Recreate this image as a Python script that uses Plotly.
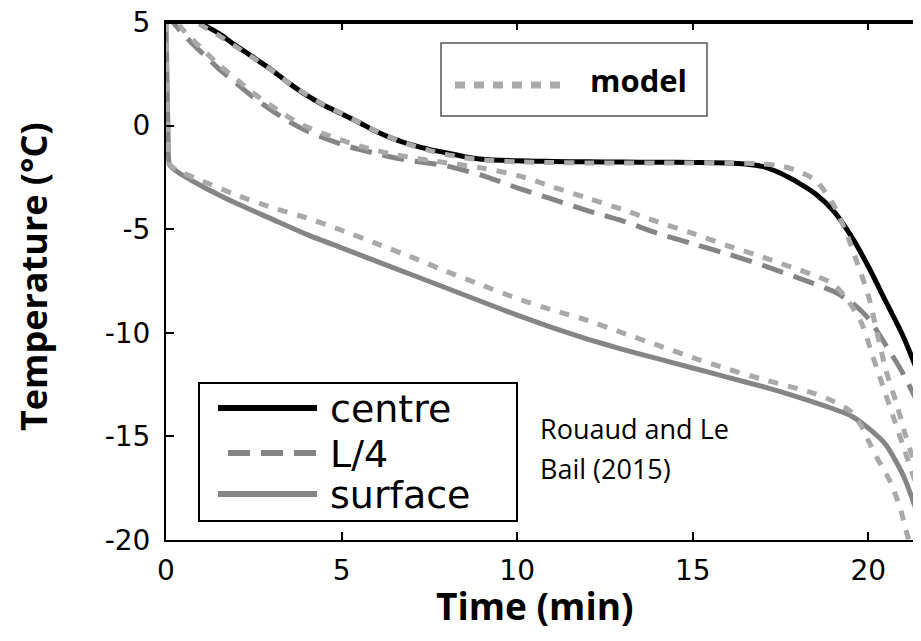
import plotly.graph_objects as go

# ---------------- data ----------------
centre_t = [0, 0.5, 1.0, 1.5, 2.0, 2.5, 3.0, 3.5, 4.0, 4.5, 5.0, 5.5, 6.0, 6.5, 7.0, 7.5,
            8.0, 8.5, 9.0, 10, 11, 12, 13, 14, 15, 16, 16.5, 17.0, 17.5, 18.0, 18.5,
            19.0, 19.5, 20.0, 20.5, 21.0, 21.5]
centre_T = [6.2, 5.6, 4.95, 4.45, 3.85, 3.28, 2.7, 2.05, 1.47, 0.98, 0.57, 0.15, -0.3,
            -0.65, -0.93, -1.15, -1.32, -1.5, -1.62, -1.7, -1.73, -1.75, -1.76, -1.77,
            -1.78, -1.8, -1.85, -1.98, -2.3, -2.75, -3.3, -4.1, -5.3, -6.8, -8.5, -10.2, -12.3]

l4_t = [0, 0.5, 1.0, 1.5, 2.0, 2.5, 3.0, 3.5, 4.0, 4.5, 5.0, 5.5, 6.0, 6.5, 7.0, 7.5, 8.0,
        9.0, 10, 11, 12, 13, 14, 15, 16, 17, 18, 19, 19.5, 20.0, 20.5, 21.0, 21.5]
l4_T = [5.4, 4.4, 3.55, 2.75, 2.05, 1.35, 0.75, 0.2, -0.25, -0.6, -0.9, -1.15, -1.35, -1.55,
        -1.7, -1.82, -1.95, -2.4, -3.0, -3.55, -4.1, -4.6, -5.2, -5.7, -6.2, -6.75, -7.35,
        -8.0, -8.5, -9.3, -10.6, -12.0, -13.7]

surf_t = [0, 0.03, 0.06, 0.1, 0.3, 1.0, 2.0, 3.0, 4.0, 5.0, 6.0, 7.0, 8.0, 9.0, 10.0, 11.0,
          12.0, 13.0, 14.0, 15.0, 16.0, 17.0, 18.0, 18.8, 19.5, 20.0, 20.5, 21.0, 21.5]
surf_T = [5.0, 2.0, -0.5, -1.9, -2.2, -2.9, -3.75, -4.5, -5.25, -5.9, -6.55, -7.2, -7.85, -8.5,
          -9.15, -9.75, -10.3, -10.8, -11.25, -11.7, -12.15, -12.6, -13.1, -13.55, -14.0,
          -14.6, -15.4, -16.9, -19.2]

m_centre_t = [0, 0.5, 1.0, 1.5, 2, 2.5, 3, 3.5, 4, 4.5, 5, 5.5, 6, 6.5, 7, 7.5, 8, 8.5, 9,
              10, 11, 12, 13, 14, 15, 16, 17, 17.5, 18.0, 18.5, 19.0, 19.4, 19.7, 20.0,
              20.25, 20.5, 20.8, 21.05, 21.3, 21.5]
m_centre_T = [6.0, 5.4, 4.85, 4.35, 3.8, 3.25, 2.68, 2.05, 1.5, 1.0, 0.58, 0.15, -0.28, -0.65,
              -0.95, -1.2, -1.4, -1.55, -1.65, -1.75, -1.78, -1.8, -1.8, -1.8, -1.8, -1.8,
              -1.85, -1.95, -2.2, -2.65, -3.8, -5.3, -6.7, -8.2, -10.0, -11.8, -13.4, -14.9,
              -16.2, -17.2]

m_l4_t = [0, 0.5, 1.0, 1.5, 2.0, 2.5, 3.0, 3.5, 4.0, 4.5, 5.0, 5.5, 6.0, 6.5, 7.0, 7.5, 8.0,
          9.0, 10, 11, 12, 13, 14, 15, 16, 17, 18, 18.5, 19.0, 19.4, 19.8, 20.1, 20.4, 20.7,
          21.0, 21.3, 21.5]
m_l4_T = [5.6, 4.6, 3.75, 2.95, 2.25, 1.55, 0.95, 0.4, -0.05, -0.4, -0.7, -0.98, -1.2, -1.4,
          -1.55, -1.68, -1.8, -2.05, -2.4, -2.95, -3.5, -4.05, -4.65, -5.2, -5.8, -6.35,
          -6.95, -7.25, -7.65, -8.4, -9.5, -11.0, -12.5, -14.0, -15.5, -17.0, -18.0]

m_surf_t = [0, 0.03, 0.07, 0.12, 0.5, 1.0, 2.0, 3.0, 4.0, 5.0, 6.0, 7.0, 8.0, 9.0, 10.0, 11.0,
            12.0, 13.0, 14.0, 15.0, 16.0, 17.0, 18.0, 18.5, 19.0, 19.5, 19.8, 20.0, 20.3,
            20.6, 20.9, 21.1, 21.3]
m_surf_T = [5.0, 1.5, -1.0, -1.9, -2.3, -2.65, -3.35, -3.95, -4.45, -5.05, -5.7, -6.35, -7.05,
            -7.7, -8.35, -8.9, -9.4, -10.0, -10.6, -11.2, -11.75, -12.25, -12.7, -12.95,
            -13.3, -13.8, -14.5, -15.2, -16.2, -17.1, -18.4, -19.7, -20.8]

x_ticks = [0, 5, 10, 15, 20]
x_tick_labels = ["0", "5", "10", "15", "20"]
y_ticks = [-20, -15, -10, -5, 0, 5]
y_tick_labels = ["-20", "-15", "-10", "-5", "0", "5"]

legend_names = ["centre", "L/4", "surface"]
model_name = "model"
x_title = "Time (min)"
y_title = "Temperature (°C)"
note_lines = ["Rouaud and Le", "Bail (2015)"]

# ---------------- styles ----------------
BLACK = "#000000"
GREY = "#858585"
LIGHT = "#a9a9a9"
OFF = 8                      # default body margin of the html page
SCR_W, SCR_H = 921, 641
PL, PT, PB = 166, 22, 540    # plot area edges in screen pixels
PX_PER_MIN = 755 / 21.5
W, H = SCR_W - OFF, SCR_H - 2 * OFF
PR = OFF + W
L, T = PL - OFF, PT - OFF
R, B = 0, H - (PB - OFF)
PW, PH = PR - PL, PB - PT
X_MAX = PW / PX_PER_MIN
DASH_L4 = "22px,11px"
DOT_MODEL = "10px,10px"


def px(xp):
    return (xp - PL) / PW


def py(yp):
    return (PB - yp) / PH


fig = go.Figure()
line_kw = dict(mode="lines", showlegend=False)
fig.add_trace(go.Scatter(x=surf_t, y=surf_T, name=legend_names[2],
                         line=dict(color=GREY, width=5, shape="spline", smoothing=0.6),
                         **line_kw))
fig.add_trace(go.Scatter(x=l4_t, y=l4_T, name=legend_names[1],
                         line=dict(color=GREY, width=5, dash=DASH_L4, shape="spline",
                                   smoothing=0.8), **line_kw))
fig.add_trace(go.Scatter(x=centre_t, y=centre_T, name=legend_names[0],
                         line=dict(color=BLACK, width=5, shape="spline", smoothing=0.8),
                         **line_kw))
fig.add_trace(go.Scatter(x=m_surf_t, y=m_surf_T, name=model_name + " surface",
                         line=dict(color=LIGHT, width=5, dash=DOT_MODEL, shape="spline",
                                   smoothing=0.6), **line_kw))
fig.add_trace(go.Scatter(x=m_l4_t, y=m_l4_T, name=model_name + " L/4",
                         line=dict(color=LIGHT, width=5, dash=DOT_MODEL, shape="spline",
                                   smoothing=0.8), **line_kw))
fig.add_trace(go.Scatter(x=m_centre_t, y=m_centre_T, name=model_name + " centre",
                         line=dict(color=LIGHT, width=5, dash=DOT_MODEL, shape="spline",
                                   smoothing=0.8), **line_kw))

shapes = []
annotations = []

# top frame line (just inside the plot area)
shapes.append(dict(type="line", xref="paper", yref="paper", x0=0, x1=1,
                   y0=1 - 1 / PH, y1=1 - 1 / PH,
                   line=dict(color=BLACK, width=2), layer="above"))

# experimental legend box
shapes.append(dict(type="rect", xref="paper", yref="paper",
                   x0=px(199), x1=px(517), y0=py(521), y1=py(383),
                   line=dict(color=BLACK, width=2), fillcolor="white", layer="above"))
legend_styles = [dict(color=BLACK, width=6), dict(color=GREY, width=6, dash=DASH_L4),
                 dict(color=GREY, width=6)]
legend_rows = [408, 453, 494]
legend_x0 = [218, 228, 218]
for name, style, yrow, x0 in zip(legend_names, legend_styles, legend_rows, legend_x0):
    shapes.append(dict(type="line", xref="paper", yref="paper", x0=px(x0), x1=px(317),
                       y0=py(yrow), y1=py(yrow), line=style, layer="above"))
    annotations.append(dict(text=name, xref="paper", yref="paper", x=px(328), y=py(yrow + 1),
                            xanchor="left", yanchor="middle", showarrow=False,
                            font=dict(family="DejaVu Sans", size=38, color=BLACK)))

# model legend box
shapes.append(dict(type="rect", xref="paper", yref="paper",
                   x0=px(441), x1=px(707), y0=py(116), y1=py(43),
                   line=dict(color="#555555", width=1.5), fillcolor="white", layer="above"))
shapes.append(dict(type="line", xref="paper", yref="paper", x0=px(455), x1=px(567),
                   y0=py(85), y1=py(85), line=dict(color=LIGHT, width=7, dash="10px,9px"),
                   layer="above"))
annotations.append(dict(text="<b>%s</b>" % model_name, xref="paper", yref="paper",
                        x=px(588), y=py(80), xanchor="left", yanchor="middle", showarrow=False,
                        font=dict(family="Open Sans", size=31, color=BLACK)))

# note
for line_text, yrow in zip(note_lines, [428, 468]):
    annotations.append(dict(text=line_text, xref="paper", yref="paper", x=px(538),
                            y=py(yrow), xanchor="left", yanchor="middle", showarrow=False,
                            font=dict(family="Open Sans", size=27, color=BLACK)))

# axis titles
annotations.append(dict(text="<b>%s</b>" % x_title, xref="paper", yref="paper", x=px(535),
                        y=py(605), xanchor="center", yanchor="middle", showarrow=False,
                        font=dict(family="Open Sans", size=37, color=BLACK)))
annotations.append(dict(text="<b>%s</b>" % y_title, xref="paper", yref="paper", x=px(33),
                        y=py(277), xanchor="center", yanchor="middle", showarrow=False,
                        textangle=-90,
                        font=dict(family="Open Sans", size=36, color=BLACK)))

fig.update_layout(
    width=W, height=H,
    margin=dict(l=L, r=R, t=T, b=B, pad=0),
    paper_bgcolor="white", plot_bgcolor="white",
    showlegend=False,
    shapes=shapes, annotations=annotations,
    xaxis=dict(range=[0, X_MAX], tickvals=x_ticks, ticktext=x_tick_labels,
               showgrid=False, zeroline=False, showline=True, linecolor=BLACK, linewidth=2,
               mirror=False, ticks="inside", ticklen=8, tickwidth=2, tickcolor=BLACK,
               ticklabelstandoff=4, automargin=False, ticklabeloverflow="allow",
               tickfont=dict(family="DejaVu Sans", size=28, color=BLACK)),
    xaxis2=dict(range=[0, X_MAX], tickvals=x_ticks, showticklabels=False, overlaying="x",
                side="top", anchor="y", showgrid=False, zeroline=False, showline=True,
                linecolor=BLACK, linewidth=2, ticks="inside", ticklen=8, tickwidth=2,
                tickcolor=BLACK, automargin=False),
    yaxis=dict(range=[-20, 5], tickvals=y_ticks, ticktext=y_tick_labels,
               showgrid=False, zeroline=False, showline=True, linecolor=BLACK, linewidth=2,
               mirror=False, ticks="inside", ticklen=8, tickwidth=2, tickcolor=BLACK,
               ticklabelstandoff=8, automargin=False, ticklabeloverflow="allow",
               tickfont=dict(family="DejaVu Sans", size=28, color=BLACK)),
)
# an invisible trace so that the top axis is drawn
fig.add_trace(go.Scatter(x=[0], y=[5], xaxis="x2", yaxis="y", mode="lines",
                         showlegend=False, hoverinfo="skip", line=dict(width=0)))

fig.write_html("out.html")
